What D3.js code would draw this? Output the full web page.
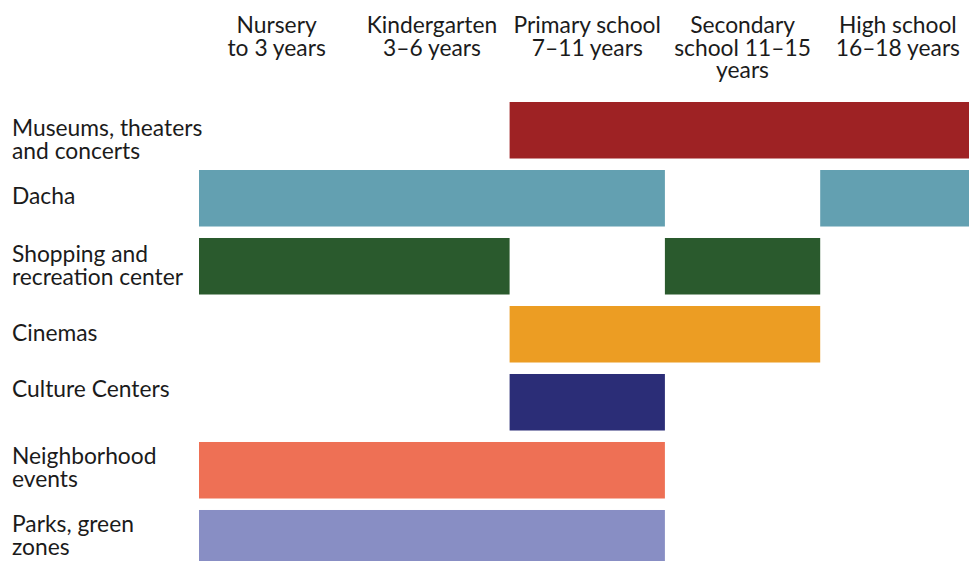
<!DOCTYPE html>
<html>
<head>
<meta charset="utf-8">
<script src="https://cdn.jsdelivr.net/npm/d3@7"></script>
<style>
  html, body { margin: 0; padding: 0; background: #fff; overflow: hidden; }
  svg { display: block; }
  text { font-family: Lato, "Noto Sans", sans-serif; fill: #1b1b1b; }
</style>
</head>
<body>
<svg id="chart" width="969" height="561"></svg>
<script>
// Age stages shown as columns (each label broken into lines)
const stages = [
  ["Nursery", "to 3 years"],
  ["Kindergarten", "3–6 years"],
  ["Primary school", "7–11 years"],
  ["Secondary", "school 11–15", "years"],
  ["High school", "16–18 years"]
];

// Places children go to, one row each
const places = [
  "Museums, theaters and concerts",
  "Dacha",
  "Shopping and recreation center",
  "Cinemas",
  "Culture Centers",
  "Neighborhood events",
  "Parks, green zones"
];

// Row labels split into lines
const placeLines = [
  ["Museums, theaters", "and concerts"],
  ["Dacha"],
  ["Shopping and", "recreation center"],
  ["Cinemas"],
  ["Culture Centers"],
  ["Neighborhood", "events"],
  ["Parks, green", "zones"]
];

// Spans of age stages (start stage index, end stage index) per place
const spans = [
  [[2, 5]],
  [[0, 3], [4, 5]],
  [[0, 2], [3, 4]],
  [[2, 4]],
  [[2, 3]],
  [[0, 3]],
  [[0, 3]]
];

const colors = ["#9e2224", "#63a0b1", "#2a5a2d", "#ec9d23", "#2b2d77", "#ee7055", "#888ec4"];

// Layout
const svg = d3.select("#chart");
const x = d3.scaleLinear().domain([0, stages.length]).range([199, 975.5]);
const y = d3.scaleBand().domain(places).range([102, 566.5]).paddingInner(0.169).paddingOuter(0);
const fontSize = "22.8px";
const lineH = 22.7;
const labelBaseline = [34, 34, 24, 35, 23, 22, 22];

// Column headers
const head = svg.append("g").attr("class", "headers");
stages.forEach((lines, i) => {
  const t = head.append("text")
    .attr("x", x(i + 0.5))
    .attr("y", 33)
    .attr("text-anchor", "middle")
    .style("font-size", fontSize);
  lines.forEach((ln, j) => {
    t.append("tspan").attr("x", x(i + 0.5)).attr("dy", j === 0 ? 0 : lineH).text(ln);
  });
});

// Bars
const bars = svg.append("g").attr("class", "bars");
places.forEach((p, i) => {
  bars.selectAll(null)
    .data(spans[i])
    .join("rect")
    .attr("x", d => x(d[0]))
    .attr("width", d => x(d[1]) - x(d[0]))
    .attr("y", y(p))
    .attr("height", y.bandwidth())
    .attr("fill", colors[i]);
});

// Row labels
const labels = svg.append("g").attr("class", "labels");
places.forEach((p, i) => {
  const t = labels.append("text")
    .attr("x", 12)
    .attr("y", y(p) + labelBaseline[i])
    .style("font-size", fontSize);
  placeLines[i].forEach((ln, j) => {
    t.append("tspan").attr("x", 12).attr("dy", j === 0 ? 0 : lineH).text(ln);
  });
});
</script>
</body>
</html>
